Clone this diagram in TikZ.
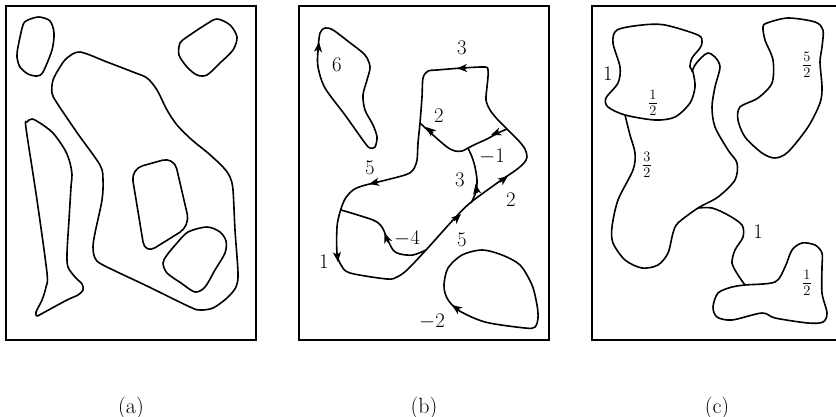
\documentclass[tikz,border=0pt]{standalone}
\usetikzlibrary{arrows.meta}
\begin{document}
\begin{tikzpicture}[x=1pt,y=-1pt,
  frame/.style={line width=2.6pt},
  curve/.style={line width=1.6pt, line join=round},
  tip/.style={line width=1.6pt,-{Stealth[length=10pt,width=8pt,inset=2.8pt]}},
  lbl/.style={font=\fontsize{22}{26}\selectfont, inner sep=0pt},
  captxt/.style={font=\fontsize{22}{26}\selectfont, inner sep=0pt, anchor=base}]
\useasboundingbox (0,0) rectangle (836,416);
\clip (0,0) rectangle (836,416);
% frames
\draw[frame] (6,6) rectangle (256,340);
\draw[frame] (299,6) rectangle (549,340);
\draw[frame] (592,6) rectangle (842,340);
% ---------- panel (a)
\draw[curve] plot[smooth cycle] coordinates {(39,17)(50,21)(54,33)(52,50)(43,72)(37,76)(28,74)(20,67)(17,57)(18,47)(23,25)(28,20)};
\draw[curve] plot[smooth cycle] coordinates {(217,19)(230,25)(237,37)(233,50)(220,63)(207,75)(197,75)(187,67)(179,55)(180,43)(187,37)(205,25)};
\draw[curve] plot[smooth cycle] coordinates {(80,52)(107,62)(133,72)(147,78)(157,90)(167,110)(177,125)(192,140)(208,153)(223,167)(230,177)(233,190)(235,230)(238,273)(236,287)(227,298)(213,308)(200,310)(190,307)(147,286)(103,265)(95,258)(93,247)(95,233)(102,200)(103,180)(100,165)(78,134)(57,103)(52,93)(53,80)(60,67)(67,58)};
\draw[curve] plot[smooth cycle] coordinates {(27,122)(32,119)(40,123)(53,133)(65,150)(70,163)(72,175)(71,187)(69,220)(67,253)(68,267)(75,277)(82,284)(83,290)(78,295)(67,300)(43,313)(37,316)(36,312)(42,300)(46,287)(47,273)(37,200)(26,128)};
\draw[curve, rounded corners=12pt] (131,169) -- (174,157) -- (190,226) -- (145,254) -- cycle;
\draw[curve] plot[smooth cycle] coordinates {(207,227)(220,232)(226,241)(225,253)(215,270)(205,287)(195,292)(181,283)(167,273)(163,263)(167,255)(177,243)(188,232)};
% ---------- panel (b)
\draw[curve] plot[smooth cycle] coordinates {(325,28)(333,30)(349,42)(365,55)(370,67)(367,80)(363,95)(365,110)(373,125)(377,137)(375,147)(370,148)(365,143)(345,115)(325,88)(318,67)(318,50)(320,33)};
\draw[curve] plot[smooth cycle] coordinates {(423,78)(428,71)(437,70)(462,68)(485,67)(488,70)(488,77)(487,87)(486,100)(490,110)(498,120)(507,129)(518,140)(525,149)(527,157)(524,163)(516,170)(500,181)(470,203)(453,220)(426,250)(407,270)(397,277)(387,279)(350,273)(341,265)(337,253)(337,227)(340,212)(345,199)(353,190)(362,186)(378,182)(405,175)(413,170)(417,160)(418,143)(420,123)(422,97)};
\draw[curve] plot[smooth] coordinates {(507,129)(498,133)(487,139)(476,144)(468,148)};
\draw[curve] plot[smooth] coordinates {(468,148)(462,151)(455,151)(447,147)(433,135)(420,123)};
\draw[curve] plot[smooth] coordinates {(468,148)(472,157)(475,167)(477,180)(476,192)(471,203)};
\draw[curve] plot[smooth] coordinates {(341,210)(373,220)(382,227)(386,236)(393,250)(400,254)(413,255)(426,250)};
\draw[curve] plot[smooth cycle] coordinates {(482,250)(502,255)(520,265)(532,285)(537,305)(538,318)(535,327)(525,328)(485,322)(458,310)(447,298)(444,285)(448,268)(462,255)};
% arrows (b)
\draw[tip] (466,68) -- (457,68.4);
\draw[tip] (433,133) -- (426,127);
\draw[tip] (499,132) -- (491,135);
\draw[tip] (477,193) -- (475.5,184);
\draw[tip] (500,182) -- (508,176);
\draw[tip] (454,220.5) -- (461,214);
\draw[tip] (337,253) -- (338,262);
\draw[tip] (388,242) -- (384.5,233);
\draw[tip] (378,182) -- (369,184);
\draw[tip] (459,310) -- (452,305);
\draw[tip] (318,52) -- (319,42);
% labels (b)
\node[lbl] (b3a) at (462,48) {$3$};
\node[lbl] (b2a) at (439,116) {$2$};
\node[lbl] (bm1) at (492,157) {$-1$};
\node[lbl] (b3b) at (460,180) {$3$};
\node[lbl] (b2b) at (511,200) {$2$};
\node[lbl] (b5a) at (462,240) {$5$};
\node[lbl] (bm4) at (407,239) {$-4$};
\node[lbl] (b1) at (324,262) {$1$};
\node[lbl] (b5b) at (370,168) {$5$};
\node[lbl] (b6) at (337,65) {$6$};
\node[lbl] (bm2) at (432,322) {$-2$};
% ---------- panel (c)
\draw[curve] plot[smooth cycle] coordinates {(617,30)(642,25)(665,25)(698,35)(702,42)(700,48)(692,58)(690,67)(693,72)(695,87)(690,103)(675,117)(655,120)(625,115)(608,107)(606,98)(618,83)(620,67)(613,43)};
\draw[curve] plot[smooth] coordinates {(625,115)(630,135)(635,153)(633,170)(618,200)(612,227)(613,243)(625,260)(642,268)(658,265)(668,253)(673,233)(678,223)(698,208)(718,197)(735,180)(737,163)(728,150)(715,127)(712,107)(715,87)(720,67)(715,57)(708,53)(702,57)(695,65)(692,72)};
\draw[curve] plot[smooth] coordinates {(698,208)(712,208)(728,215)(742,225)(743,237)(735,250)(732,263)(738,275)(745,285)};
\draw[curve] plot[smooth cycle] coordinates {(745,285)(775,282)(785,267)(792,250)(802,243)(815,245)(822,253)(822,267)(822,293)(827,313)(823,322)(808,323)(775,318)(762,313)(732,320)(717,317)(713,307)(718,293)(732,287)};
\draw[curve] plot[smooth cycle] coordinates {(767,23)(788,18)(815,22)(823,30)(822,47)(820,62)(822,87)(820,103)(808,127)(788,152)(775,158)(762,153)(745,137)(738,120)(740,107)(758,98)(772,83)(773,60)(765,40)(763,27)};
\node[lbl] (c1a) at (608,74) {$1$};
\node[lbl] (ch1) at (653,103) {$\frac12$};
\node[lbl] (ch3) at (647,165) {$\frac32$};
\node[lbl] (ch5) at (807,65) {$\frac52$};
\node[lbl] (c1b) at (758,232) {$1$};
\node[lbl] (ch1b) at (807,283) {$\frac12$};
% captions
\node[captxt] (capa) at (131,413) {(a)};
\node[captxt] (capb) at (424,413) {(b)};
\node[captxt] (capc) at (717,413) {(c)};
\end{tikzpicture}
\end{document}
